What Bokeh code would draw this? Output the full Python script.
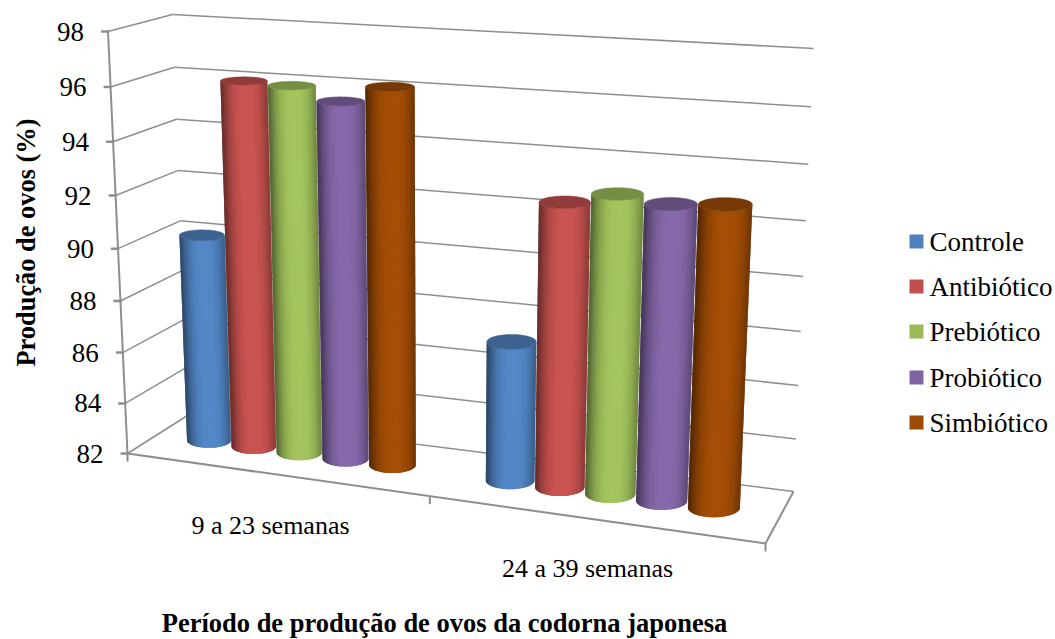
from math import pi
import numpy as np
from bokeh.plotting import figure
from bokeh.models import Range1d
from bokeh.core.properties import value
from bokeh.embed import file_html
from bokeh.resources import INLINE

# Egg production (%) per treatment for the two laying periods
PERIODS = ["9 a 23 semanas", "24 a 39 semanas"]
SERIES = ["Controle", "Antibiótico", "Prebiótico", "Probiótico", "Simbiótico"]
CONTROLE = [90.15, 87.3]
ANTIBIOTICO = [96.1, 92.6]
PREBIOTICO = [96.05, 93.05]
PROBIOTICO = [95.6, 92.85]
SIMBIOTICO = [96.25, 93.0]
TICKS = [82, 84, 86, 88, 90, 92, 94, 96, 98]
COLORS = ["#4F81BD", "#C0504D", "#9BBB59", "#8064A2", "#9C4A06"]
TABLE = [CONTROLE, ANTIBIOTICO, PREBIOTICO, PROBIOTICO, SIMBIOTICO]

# Screen corners of the plot box: (front/back, left/right, floor/top)
FLB, FRB, BLB, BRB = (127, 453), (765, 543), (187, 415), (793, 491)
FLT, FRT, BLT, BRT = (107.5, 31), (787, 77), (172, 14), (813, 48)
K_VALUE, K_CAT = 1.06, 1.11
VMIN, VMAX = TICKS[0], TICKS[-1]

FONT = value("Liberation Serif")
GRID = "#8e8e8e"


def project(u, d, val):
    """Map category position u, depth d and a data value to page pixels."""
    v = (val - VMIN) / (VMAX - VMIN)
    f = v / (v + K_VALUE * (1 - v))
    g = u / (u + K_CAT * (1 - u))
    out = []
    for i in (0, 1):
        floor = (1 - d) * ((1 - g) * FLB[i] + g * FRB[i]) + d * ((1 - g) * BLB[i] + g * BRB[i])
        top = (1 - d) * ((1 - g) * FLT[i] + g * FRT[i]) + d * ((1 - g) * BLT[i] + g * BRT[i])
        out.append((1 - f) * floor + f * top)
    return out


def tint(hex_color, factor):
    rgb = [int(hex_color[i:i + 2], 16) for i in (1, 3, 5)]
    return "#%02x%02x%02x" % tuple(int(min(255, c * factor)) for c in rgb)


p = figure(width=1055, height=639, x_range=Range1d(0, 1055), y_range=Range1d(639, 0),
           output_backend="svg", toolbar_location=None, min_border=0)
p.axis.visible = False
p.grid.visible = False
p.outline_line_color = None
p.background_fill_color = "white"
p.border_fill_color = "white"


def seg(a, b, width=1.5):
    p.line([a[0], b[0]], [a[1], b[1]], line_color=GRID, line_width=width)


# Walls, floor edges and tick marks
for t in TICKS:
    front = project(0, 0, t)
    back = project(0, 1, t)
    seg(front, back)
    seg(back, project(1, 1, t))
    seg((front[0] - 7, front[1]), (front[0] + 1, front[1]), 2.5)
seg(project(0, 0, VMIN), project(0, 0, VMAX), 2)
seg(project(0, 0, VMIN), project(1, 0, VMIN), 2)
seg(project(1, 0, VMIN), project(1, 1, VMIN), 2)
for u in (0, 0.5, 1):
    a = project(u, 0, VMIN)
    seg(a, (a[0], a[1] + 8), 2)

# Cylinders, drawn left to right so each one overlaps the previous
DEPTH, RAD_D, RAD_U, STEP = 0.52, 0.19, 0.0385, 0.078
CENTERS = [0.245, 0.747]
STRIPS = 40
for g in range(len(PERIODS)):
    for s in range(len(SERIES)):
        val = TABLE[s][g]
        base = COLORS[s]
        u = CENTERS[g] + STEP * (s - 2)
        cb = project(u, DEPTH, VMIN)
        ct = project(u, DEPTH, val)
        ab = (project(u + RAD_U, DEPTH, VMIN)[0] - project(u - RAD_U, DEPTH, VMIN)[0]) / 2
        at = (project(u + RAD_U, DEPTH, val)[0] - project(u - RAD_U, DEPTH, val)[0]) / 2
        bb = abs(project(u, DEPTH - RAD_D, VMIN)[1] - project(u, DEPTH + RAD_D, VMIN)[1]) / 2
        bt = abs(project(u, DEPTH - RAD_D, val)[1] - project(u, DEPTH + RAD_D, val)[1]) / 2
        # Each strip runs under the next one so no seams show between them
        angles = np.linspace(pi, 0, STRIPS + 1)
        xs, ys, fills = [], [], []
        for i in range(STRIPS):
            a0 = angles[i]
            a1 = angles[min(i + 2, STRIPS)]
            xs.append([cb[0] + ab * np.cos(a0), cb[0] + ab * np.cos(a1),
                       ct[0] + at * np.cos(a1), ct[0] + at * np.cos(a0)])
            ys.append([cb[1] + bb * np.sin(a0), cb[1] + bb * np.sin(a1),
                       ct[1] + bt * np.sin(a1), ct[1] + bt * np.sin(a0)])
            c = np.cos((angles[i] + angles[i + 1]) / 2) - 0.08
            fills.append(tint(base, 0.60 + 0.46 * (1 - abs(c) ** 2.6)))
        p.patches(xs, ys, fill_color=fills, line_color=None)
        th = np.linspace(0, 2 * pi, 60)
        p.patch(ct[0] + at * np.cos(th), ct[1] + bt * np.sin(th),
                fill_color=tint(base, 0.76), line_color=tint(base, 0.76), line_width=0.5)

# Value labels beside the front axis
for t in TICKS:
    x, y = project(0, 0, t)
    p.text([x - 24], [y], text=[str(t)], text_font=FONT, text_font_size="27px",
           text_align="right", text_baseline="middle", text_color="black")

# Period labels under the floor
p.text([270, 587], [525, 568], text=PERIODS, text_font=FONT, text_font_size="26px",
       text_align="center", text_baseline="middle", text_color="black")

# Axis titles
p.text([444], [622], text=["Período de produção de ovos da codorna japonesa"], text_font=FONT,
       text_font_size="26.5px", text_font_style="bold", text_align="center",
       text_baseline="middle", text_color="black")
p.text([25], [242], text=["Produção de ovos (%)"], text_font=FONT, text_font_size="26.4px",
       text_font_style="bold", text_align="center", text_baseline="middle",
       text_color="black", angle=pi / 2)

# Legend
LEG_Y = [241, 286, 331, 377, 422]
p.scatter([916] * 5, LEG_Y, marker="square", size=14, fill_color=COLORS, line_color=None)
p.text([929] * 5, LEG_Y, text=SERIES, text_font=FONT, text_font_size="27px",
       text_align="left", text_baseline="middle", text_color="black")

open("out.html", "w").write(file_html(p, INLINE))
